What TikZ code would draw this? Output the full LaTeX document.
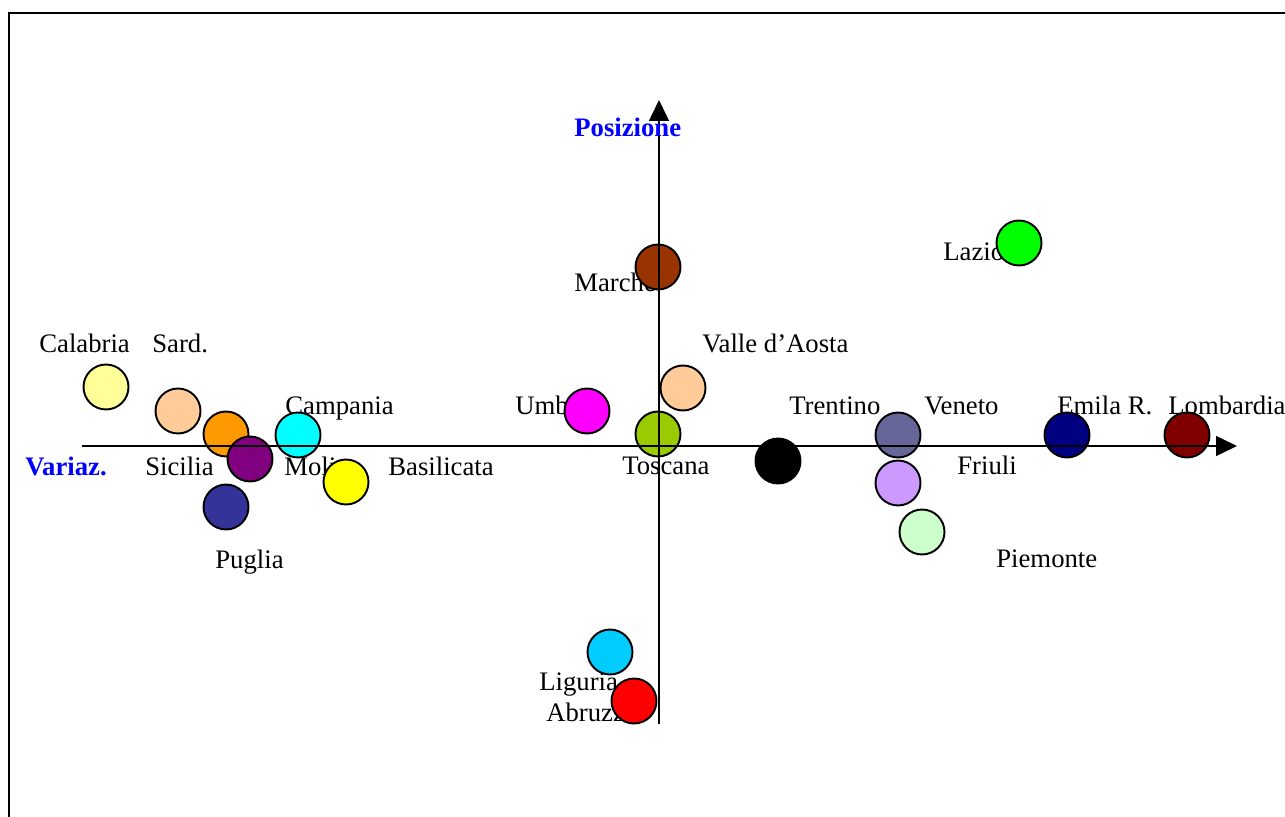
\documentclass[tikz,border=0pt]{standalone}
\usepackage{fontspec}
\setmainfont{Liberation Serif}
\usepackage{xcolor}
\usepackage{tikz}
\usetikzlibrary{arrows.meta, positioning, shapes.geometric}
\definecolor{calabriacolor}{RGB}{255,255,153}
\definecolor{peachcolor}{RGB}{255,204,153}
\definecolor{siciliacolor}{RGB}{255,153,0}
\definecolor{molisecolor}{RGB}{128,0,128}
\definecolor{campaniacolor}{RGB}{0,255,255}
\definecolor{basilicatacolor}{RGB}{255,255,0}
\definecolor{pugliacolor}{RGB}{51,51,153}
\definecolor{umbriacolor}{RGB}{255,0,255}
\definecolor{marchecolor}{RGB}{153,51,0}
\definecolor{toscanacolor}{RGB}{153,204,0}
\definecolor{venetocolor}{RGB}{102,102,153}
\definecolor{friulicolor}{RGB}{204,153,255}
\definecolor{piemontecolor}{RGB}{204,255,204}
\definecolor{emiliacolor}{RGB}{0,0,128}
\definecolor{lombardiacolor}{RGB}{128,0,0}
\definecolor{laziocolor}{RGB}{0,255,0}
\definecolor{liguriacolor}{RGB}{0,204,255}
\definecolor{abruzzocolor}{RGB}{255,0,0}

\begin{document}
\begin{tikzpicture}[x=0.02cm, y=-0.02cm,
    region/.style={draw, circle, line width=1.1pt, minimum size=0.9cm, inner sep=0pt},
    lbl/.style={anchor=base west, inner sep=0pt, font=\fontsize{15.2}{18}\selectfont},
    axtitle/.style={anchor=base west, inner sep=0pt, text=blue, font=\fontsize{15.2}{18}\selectfont\bfseries},
    axis/.style={line width=0.85pt, -{Triangle[length=0.42cm, width=0.4cm]}}]
    \useasboundingbox (0,0) rectangle (1285,817);
    \draw[line width=1.1pt] (9,817) |- (1285,13);

    % Region names
    \node[lbl] (calabrialbl) at (39,353) {Calabria};
    \node[lbl] (sardlbl) at (152,353) {Sard.};
    \node[lbl] (campanialbl) at (285,415) {Campania};
    \node[lbl] (sicilialbl) at (145,476) {Sicilia};
    \node[lbl] (moliselbl) at (284,476) {Molise};
    \node[lbl] (basilicatalbl) at (388,476) {Basilicata};
    \node[lbl] (puglialbl) at (215,568) {Puglia};
    \node[lbl] (umbrialbl) at (515,415) {Umbria};
    \node[lbl] (marchelbl) at (574,292) {Marche};
    \node[lbl] (vallelbl) at (702,353) {Valle d'Aosta};
    \node[lbl] (toscanalbl) at (622,475) {Toscana};
    \node[lbl] (trentinolbl) at (789,415) {Trentino};
    \node[lbl] (venetolbl) at (924,415) {Veneto};
    \node[lbl] (friulilbl) at (957,475) {Friuli};
    \node[lbl] (emilialbl) at (1057,415) {Emila R.};
    \node[lbl] (lombardialbl) at (1168,415) {Lombardia};
    \node[lbl] (piemontelbl) at (996,567) {Piemonte};
    \node[lbl] (laziolbl) at (943,261) {Lazio};
    \node[lbl] (liguriallbl) at (539,690) {Liguria};
    \node[lbl] (abruzzolbl) at (546,721) {Abruzzo};

    % Regions
    \node[region, fill=calabriacolor] (calabria) at (106,387) {};
    \node[region, fill=peachcolor] (sard) at (178,411) {};
    \node[region, fill=siciliacolor] (sicilia) at (226,434) {};
    \node[region, fill=molisecolor] (molise) at (250,459) {};
    \node[region, fill=campaniacolor] (campania) at (298,435) {};
    \node[region, fill=basilicatacolor] (basilicata) at (346,482) {};
    \node[region, fill=pugliacolor] (puglia) at (226,507) {};
    \node[region, fill=umbriacolor] (umbria) at (587,411) {};
    \node[region, fill=marchecolor] (marche) at (658,267) {};
    \node[region, fill=peachcolor] (valle) at (683,388) {};
    \node[region, fill=toscanacolor] (toscana) at (658,434) {};
    \node[region, fill=black] (trentino) at (778,461) {};
    \node[region, fill=venetocolor] (veneto) at (898,435) {};
    \node[region, fill=friulicolor] (friuli) at (898,483) {};
    \node[region, fill=piemontecolor] (piemonte) at (922,532) {};
    \node[region, fill=emiliacolor] (emilia) at (1067,435) {};
    \node[region, fill=lombardiacolor] (lombardia) at (1187,435) {};
    \node[region, fill=laziocolor] (lazio) at (1019,243) {};
    \node[region, fill=liguriacolor] (liguria) at (610,652) {};
    \node[region, fill=abruzzocolor] (abruzzo) at (634,701) {};

    % Axes
    \coordinate (xfrom) at (82,446);
    \coordinate (xto) at (1237,446);
    \coordinate (yfrom) at (659,724);
    \coordinate (yto) at (659,100);
    \draw[axis] (xfrom) -- (xto);
    \draw[axis] (yfrom) -- (yto);
    \node[axtitle] (posizione) at (574,137) {Posizione};
    \node[axtitle] (variaz) at (25,476) {Variaz.};
\end{tikzpicture}
\end{document}
